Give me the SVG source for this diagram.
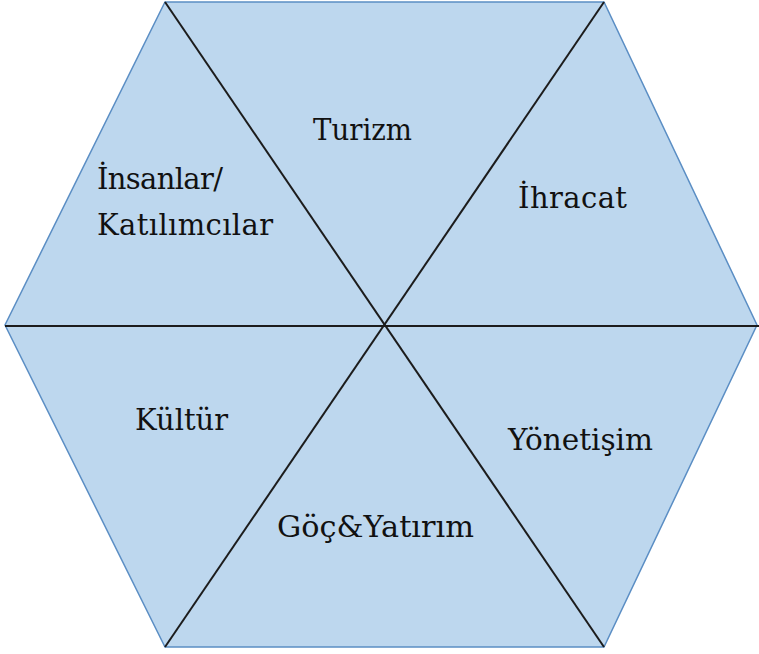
<svg xmlns="http://www.w3.org/2000/svg" width="759" height="654" viewBox="0 0 759 654">
<style>
.hex{fill:#bdd7ee;stroke:#5b8ec4;stroke-width:1.5}
.ln{stroke:#1c1c1c;stroke-width:2;fill:none}
.t{font-family:"DejaVu Serif","Liberation Serif",serif;font-size:29px;fill:#111}
</style>
<rect width="759" height="654" fill="#ffffff"/>
<g id="hexagon">
<polygon class="hex" points="165,2 604,2 757,325 604,647 165,647 5,325"/>
</g>
<g id="connectors">
<line class="ln" x1="5" y1="326" x2="759" y2="326"/>
<line class="ln" x1="165" y1="2" x2="604" y2="647"/>
<line class="ln" x1="604" y1="2" x2="165" y2="647"/>
</g>
<g id="turizm"><text class="t" x="313" y="140" textLength="99" lengthAdjust="spacingAndGlyphs">Turizm</text></g>
<g id="ihracat"><text class="t" x="518" y="208" textLength="109" lengthAdjust="spacing">İhracat</text></g>
<g id="insanlar"><text class="t" x="97" y="189" textLength="126" lengthAdjust="spacing">İnsanlar/</text><text class="t" x="97" y="235" textLength="176" lengthAdjust="spacing">Katılımcılar</text></g>
<g id="kultur"><text class="t" x="135" y="430" textLength="93" lengthAdjust="spacingAndGlyphs">Kültür</text></g>
<g id="yonetisim"><text class="t" x="508" y="450" textLength="145" lengthAdjust="spacingAndGlyphs">Yönetişim</text></g>
<g id="gocyatirim"><text class="t" x="277" y="537" textLength="197" lengthAdjust="spacingAndGlyphs">Göç&amp;Yatırım</text></g>
</svg>
